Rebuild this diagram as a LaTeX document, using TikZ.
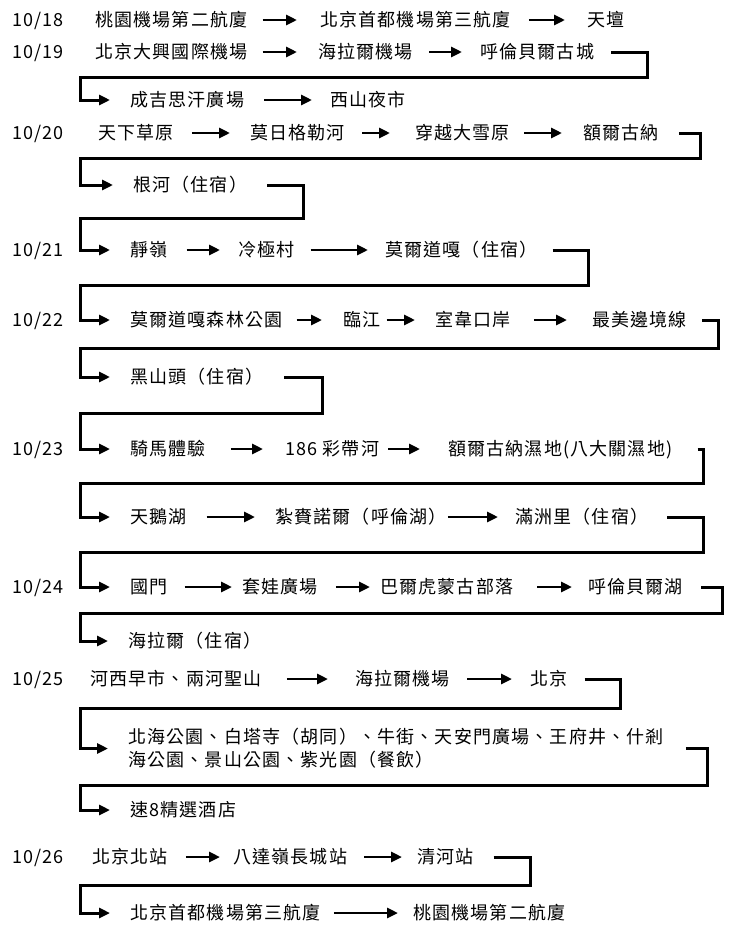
\documentclass[tikz,border=0pt]{standalone}
\usepackage{fontspec}
\setmainfont[LetterSpace=6.5]{Noto Sans CJK TC}
\usetikzlibrary{arrows.meta}
\newcommand\lnk[4]{\draw[arr,shorten <=#3pt,shorten >=#4pt] (#1.east) -- (#2.west);}
\begin{document}
\begin{tikzpicture}[x=1pt,y=-1pt,
  font=\fontsize{18pt}{23pt}\selectfont,
  t/.style={anchor=west,inner sep=0pt,text height=15.5pt,text depth=2.5pt},
  arr/.style={line width=2.8pt,-{Triangle[length=11pt,width=10pt]}},
  elb/.style={line width=3pt,line join=miter,-{Triangle[length=11pt,width=10pt]},shorten <=#1,shorten >=20pt}]
\fill[white] (0,0) rectangle (730,935);
\useasboundingbox (0,0) rectangle (730,935);
% dates
\node[t] (d18) at (12,20) {10/18};
\node[t] (d19) at (12,52) {10/19};
\node[t] (d20) at (12,133) {10/20};
\node[t] (d21) at (12,250) {10/21};
\node[t] (d22) at (12,320) {10/22};
\node[t] (d23) at (12,449) {10/23};
\node[t] (d24) at (12,587) {10/24};
\node[t] (d25) at (12,679) {10/25};
\node[t] (d26) at (12,857) {10/26};
% row 1
\node[t] (a1) at (95,20) {桃園機場第二航廈};
\node[t] (a2) at (320,20) {北京首都機場第三航廈};
\node[t] (a3) at (587,20) {天壇};
\lnk{a1}{a2}{15}{23}
\lnk{a2}{a3}{18}{22}
% row 2
\node[t] (b1) at (95,52) {北京大興國際機場};
\node[t] (b2) at (318,52) {海拉爾機場};
\node[t] (b3) at (480,52) {呼倫貝爾古城};
\lnk{b1}{b2}{15}{21}
\lnk{b2}{b3}{16}{18}
% row 3
\node[t] (c1) at (130,100) {成吉思汗廣場};
\node[t] (c2) at (330,100) {西山夜市};
\draw[elb=17pt] (b3.east) -- (647,52) |- (80,77) |- (c1.west);
\lnk{c1}{c2}{20}{18}
% row 4
\node[t] (e1) at (98,133) {天下草原};
\node[t] (e2) at (250,133) {莫日格勒河};
\node[t] (e3) at (415,133) {穿越大雪原};
\node[t] (e4) at (583,133) {額爾古納};
\lnk{e1}{e2}{18}{20}
\lnk{e2}{e3}{17}{25}
\lnk{e3}{e4}{14}{21}
% row 5
\node[t] (f1) at (133,185) {根河（住宿）};
\draw[elb=20pt] (e4.east) -- (700,133) |- (80,158) |- (f1.west);
% row 6
\node[t] (g1) at (130,250) {靜嶺};
\node[t] (g2) at (238,250) {冷極村};
\node[t] (g3) at (385,250) {莫爾道嘎（住宿）};
\draw[elb=20pt] (f1.east) -- (303,185) |- (80,218) |- (g1.west);
\lnk{g1}{g2}{19}{18}
\lnk{g2}{g3}{16}{17}
% row 7
\node[t] (h1) at (130,320) {莫爾道嘎森林公園};
\node[t] (h2) at (343,320) {臨江};
\node[t] (h3) at (435,320) {室韋口岸};
\node[t] (h4) at (592,320) {最美邊境線};
\draw[elb=15pt] (g3.east) -- (588,250) |- (80,285) |- (h1.west);
\lnk{h1}{h2}{14}{21}
\lnk{h2}{h3}{6}{20}
\lnk{h3}{h4}{23}{25}
% row 8
\node[t] (i1) at (130,377) {黑山頭（住宿）};
\draw[elb=15pt] (h4.east) -- (718,320) |- (80,348) |- (i1.west);
% row 9
\node[t] (k1) at (130,449) {騎馬體驗};
\node[t] (k2) at (285,449) {186 彩帶河};
\node[t] (k3) at (448,449) {額爾古納濕地(八大關濕地)};
\draw[elb=21pt] (i1.east) -- (322,377) |- (80,413) |- (k1.west);
\lnk{k1}{k2}{25}{22}
\lnk{k2}{k3}{9}{28}
% row 10
\node[t] (l1) at (130,517) {天鵝湖};
\node[t] (l2) at (275,517) {紮賚諾爾（呼倫湖）};
\node[t] (l3) at (515,517) {滿洲里（住宿）};
\draw[elb=25pt] (k3.east) -- (703,449) |- (80,483) |- (l1.west);
\lnk{l1}{l2}{20}{20}
\lnk{l2}{l3}{1}{17}
% row 11
\node[t] (m1) at (130,587) {國門};
\node[t] (m2) at (242,587) {套娃廣場};
\node[t] (m3) at (380,587) {巴爾虎蒙古部落};
\node[t] (m4) at (588,587) {呼倫貝爾湖};
\draw[elb=19pt] (l3.east) -- (703,517) |- (80,552) |- (m1.west);
\lnk{m1}{m2}{17}{10}
\lnk{m2}{m3}{18}{10}
\lnk{m3}{m4}{24}{16}
% row 12
\node[t] (n1) at (128,641) {海拉爾（住宿）};
\draw[elb=18pt] (m4.east) -- (722,587) |- (80,613) |- (n1.west);
% row 13
\node[t] (p1) at (90,679) {河西早市、兩河聖山};
\node[t] (p2) at (355,679) {海拉爾機場};
\node[t] (p3) at (530,679) {北京};
\lnk{p1}{p2}{25}{27}
\lnk{p2}{p3}{17}{18}
% row 14
\node[anchor=west,inner sep=0pt,align=left] (q1) at (128,748.5)
  {北海公園、白塔寺（胡同）、牛街、天安門廣場、王府井、什剎\\海公園、景山公園、紫光園（餐飲）};
\draw[elb=17pt] (p3.east) -- (620,679) |- (80,708) |- (q1.west);
% row 15
\node[t] (r1) at (130,810) {速8精選酒店};
\draw[elb=22pt] (q1.east) -- (707,748.5) |- (80,785) |- (r1.west);
% row 16
\node[t] (s1) at (92,857) {北京北站};
\node[t] (s2) at (233,857) {八達嶺長城站};
\node[t] (s3) at (417,857) {清河站};
\lnk{s1}{s2}{18}{13}
\lnk{s2}{s3}{17}{15}
% row 17
\node[t] (u1) at (130,913) {北京首都機場第三航廈};
\node[t] (u2) at (413,913) {桃園機場第二航廈};
\draw[elb=20pt] (s3.east) -- (530,857) |- (80,885) |- (u1.west);
\lnk{u1}{u2}{13}{15}
\end{tikzpicture}
\end{document}
